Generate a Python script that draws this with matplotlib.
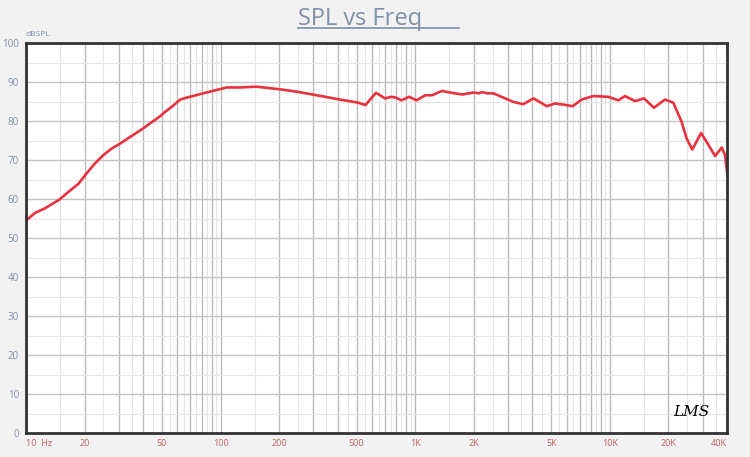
import numpy as np
import matplotlib.pyplot as plt
from matplotlib.ticker import FixedLocator, FuncFormatter

# frecuencia (Hz) y nivel (dBSPL)
freq = [10, 11.1, 12.5, 14.9, 16.5, 18.6, 20.5, 22.5, 24.9, 27.5, 30.4, 35, 40,
        44, 48.8, 52, 56, 62, 66, 72, 80, 91, 100, 107, 125, 153, 204, 247,
        312, 411, 509, 556, 593, 628, 660, 697, 755, 795, 850, 930, 1015, 1125,
        1220, 1370, 1513, 1740, 2000, 2120, 2210, 2350, 2520, 2840, 3190, 3590,
        4050, 4740, 5230, 5770, 6440, 7170, 8220, 9820, 11060, 11970, 13470,
        14970, 16850, 19200, 21180, 23380, 24820, 26530, 29430, 31480, 34740,
        37600, 39100, 40000]
spl = [54.5, 56.4, 57.6, 59.9, 61.8, 63.9, 66.6, 69.0, 71.2, 72.9, 74.2, 76.2,
       78.1, 79.6, 81.2, 82.4, 83.6, 85.5, 85.9, 86.4, 87.0, 87.7, 88.2, 88.6,
       88.6, 88.8, 88.1, 87.5, 86.6, 85.5, 84.7, 84.1, 85.8, 87.2, 86.6, 85.8,
       86.2, 86.0, 85.3, 86.2, 85.3, 86.6, 86.6, 87.7, 87.3, 86.8, 87.3, 87.1,
       87.4, 87.1, 87.1, 86.0, 84.9, 84.3, 85.8, 83.8, 84.5, 84.2, 83.8, 85.5,
       86.4, 86.2, 85.3, 86.4, 85.1, 85.8, 83.4, 85.5, 84.7, 79.8, 75.5, 72.7,
       76.9, 74.6, 71.0, 73.2, 71.2, 66.9]

xtick_vals = [10, 20, 50, 100, 200, 500, 1000, 2000, 5000, 10000, 20000, 40000]
xtick_txt = ['10  Hz', '20', '50', '100', '200', '500', '1K', '2K', '5K', '10K', '20K', '40K']
ytick_vals = list(range(0, 101, 10))

plt.rcParams['font.family'] = ['Open Sans', 'DejaVu Sans']

fig = plt.figure(figsize=(7.5, 4.57), dpi=100, facecolor='#f2f2f2')
ax = fig.add_axes([26 / 750, 24 / 457, 701 / 750, 390 / 457])
ax.set_facecolor('white')

ax.set_xscale('log')
ax.set_xlim(10, 40000)
ax.set_ylim(0, 100)

# lineas de grilla: enteras mas fuertes, medias mas suaves
major = [m * 10 ** k for k in range(1, 5) for m in range(1, 10) if m * 10 ** k <= 40000]
minor = [(m + 0.5) * 10 ** k for k in range(1, 5) for m in range(1, 10) if (m + 0.5) * 10 ** k < 40000]
for f in major:
    ax.axvline(f, color='#bababa', lw=1.0, zorder=1)
for f in minor:
    ax.axvline(f, color='#e4e4e4', lw=0.8, zorder=1)
for v in range(10, 100, 10):
    ax.axhline(v, color='#c4c4c4', lw=1.0, zorder=1)
for v in range(5, 100, 10):
    ax.axhline(v, color='#e6e6e6', lw=0.8, zorder=1)

ax.plot(freq, spl, color='#e8323f', lw=1.9, zorder=3, solid_joinstyle='round')

ax.xaxis.set_major_locator(FixedLocator(xtick_vals))
ax.xaxis.set_minor_locator(FixedLocator([]))
ax.xaxis.set_major_formatter(FuncFormatter(lambda v, p: xtick_txt[xtick_vals.index(v)] if v in xtick_vals else ''))
ax.set_yticks(ytick_vals)
ax.tick_params(axis='x', length=0, pad=4, labelsize=6.5, labelcolor='#c0605f')
ax.tick_params(axis='y', length=0, pad=5, labelsize=7, labelcolor='#8090a8')
ax.get_xticklabels()[0].set_horizontalalignment('left')
ax.get_xticklabels()[-1].set_horizontalalignment('right')

for s in ax.spines.values():
    s.set_color('#333333')
    s.set_linewidth(2.0)
    s.set_zorder(5)

ax.text(0.0, 1.012, 'dBSPL', transform=ax.transAxes, fontsize=6, color='#8090a8',
        ha='left', va='bottom')
ax.text(0.975, 0.035, 'LMS', transform=ax.transAxes, fontsize=11, style='italic',
        color='black', ha='right', va='bottom', family='DejaVu Serif', zorder=6)

fig.text(298 / 750, 1 - 25 / 457, 'SPL vs Freq', fontsize=17, color='#7f8fa6',
         ha='left', va='baseline')
fig.add_artist(plt.Line2D([298 / 750, 459 / 750], [1 - 28 / 457, 1 - 28 / 457],
                          color='#7f8fa6', lw=1.2))

fig.savefig('out.png', dpi=100, facecolor=fig.get_facecolor())
